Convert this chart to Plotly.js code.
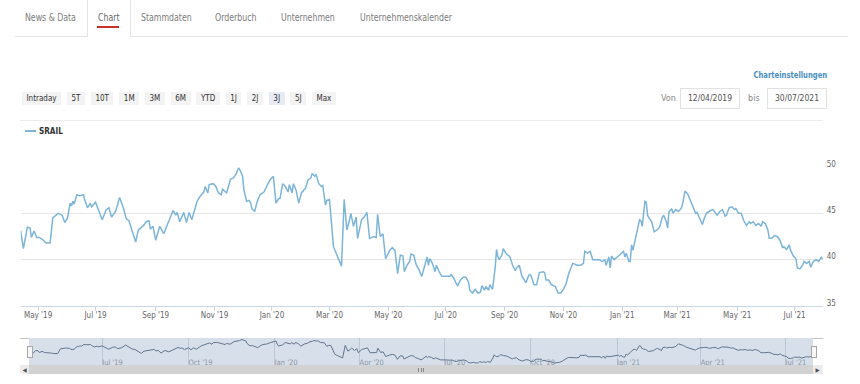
<!DOCTYPE html>
<html lang="de">
<head>
<meta charset="utf-8">
<script src="https://cdn.plot.ly/plotly-3.0.1.min.js"></script>
<style>
  html, body { margin:0; padding:0; width:860px; height:384px; overflow:hidden; background:#fff; }
  body { position:relative; font-family:"DejaVu Sans Condensed","DejaVu Sans",sans-serif; }
  #chart { position:absolute; left:0; top:0; width:860px; height:384px; }
  .a { position:absolute; white-space:nowrap; }
  .tab { font-size:10px; line-height:14px; top:11px; color:#7b7b7b; transform:scaleX(0.87); transform-origin:left center; }
  #tabline { left:15px; top:36px; width:833px; height:1px; background:#e4e4e4; }
  #activetab { left:87px; top:-2px; width:42px; height:39px; background:#fff; border-left:1px solid #e4e4e4; border-right:1px solid #e4e4e4; }
  #redline { left:97px; top:26px; width:22px; height:2px; background:#c8312a; }
  #btns { left:22px; top:92px; display:flex; gap:5.9px; }
  .btn { height:13px; line-height:13px; padding:0 4.5px; font-size:8px; color:#333; background:#f3f3f3; }
  .btn.sel { background:#e6ebf5; }
  #sep { left:20px; top:120px; width:803px; height:1px; background:#ececec; }
  #legline { left:25px; top:130px; width:11px; height:1.5px; background:#7cb5d9; }
  #legtxt { left:39px; top:125px; font-size:9px; line-height:12px; font-weight:bold; color:#333; transform:scaleX(0.9); transform-origin:left center; }
  #settings { right:33px; top:69px; font-size:9.5px; line-height:12px; font-weight:bold; color:#4a8fc0; transform:scaleX(0.8); transform-origin:right center; }
  .lbl { font-size:9px; line-height:12px; color:#888; top:92px; }
  .box { top:88px; height:19px; line-height:19px; border:1px solid #e2e2e2; font-size:8.5px; color:#555; text-align:center; }
  #scroll { left:20px; top:365px; width:803px; height:9px; background:#f2f2f2; }
  #thumb { left:29px; top:365px; width:784px; height:9px; background:#d2d2d2; }
  .sbtn { top:365px; width:9px; height:9px; background:#ebebeb; color:#555; font-size:6px; line-height:9px; text-align:center; }
  .handle { top:346px; width:4px; height:10px; background:#f7f7f7; border:1px solid #a6a6a6; }
  .outl { height:1px; background:#c4c4c4; top:338px; }
  .grip { top:367.5px; width:1px; height:4px; background:#888; }
</style>
</head>
<body>
<div id="chart"></div>

<div class="a" id="tabline"></div>
<div class="a" id="activetab"></div>
<div class="a tab" style="left:25px">News &amp; Data</div>
<div class="a tab" style="left:98px;color:#666">Chart</div>
<div class="a" id="redline"></div>
<div class="a tab" style="left:141px">Stammdaten</div>
<div class="a tab" style="left:215px">Orderbuch</div>
<div class="a tab" style="left:281px">Unternehmen</div>
<div class="a tab" style="left:360px">Unternehmenskalender</div>

<div class="a" id="settings">Charteinstellungen</div>
<div class="a" id="btns"></div>
<div class="a lbl" style="left:661px">Von</div>
<div class="a box" style="left:680px;width:58px">12/04/2019</div>
<div class="a lbl" style="left:748px">bis</div>
<div class="a box" style="left:767px;width:58px">30/07/2021</div>
<div class="a" id="sep"></div>
<div class="a" id="legline"></div>
<div class="a" id="legtxt">SRAIL</div>

<div class="a" id="scroll"></div>
<div class="a" id="thumb"></div>
<div class="a sbtn" style="left:20px">&#9664;</div>
<div class="a sbtn" style="left:813px">&#9654;</div>
<div class="a grip" style="left:418px"></div>
<div class="a grip" style="left:420.5px"></div>
<div class="a grip" style="left:423px"></div>
<div class="a outl" style="left:20px;width:9px"></div>
<div class="a outl" style="left:813px;width:10px"></div>
<div class="a handle" style="left:27px"></div>
<div class="a handle" style="left:811px"></div>

<script>
// ---- data ----
const rangeButtons = ["Intraday","5T","10T","1M","3M","6M","YTD","1J","2J","3J","5J","Max"];
const selectedButton = "3J";
const seriesName = "SRAIL";
const yTicks = [35, 40, 45, 50];

const dates = [
"2019-04-12","2019-04-16","2019-04-19","2019-04-23","2019-04-24","2019-04-26","2019-04-30","2019-05-02","2019-05-07","2019-05-09",
"2019-05-14","2019-05-16","2019-05-22","2019-05-27","2019-05-29","2019-05-31","2019-06-04","2019-06-05","2019-06-06","2019-06-07",
"2019-06-11","2019-06-13","2019-06-18","2019-06-19","2019-06-21","2019-06-25","2019-06-26","2019-07-01","2019-07-08","2019-07-11",
"2019-07-15","2019-07-17","2019-07-22","2019-07-25","2019-07-30","2019-08-01","2019-08-05","2019-08-07","2019-08-12","2019-08-14",
"2019-08-20","2019-08-22","2019-08-26","2019-08-27","2019-08-29","2019-09-02","2019-09-03","2019-09-05","2019-09-10","2019-09-12",
"2019-09-19","2019-09-23","2019-09-24","2019-09-26","2019-10-01","2019-10-03","2019-10-07","2019-10-09","2019-10-11","2019-10-15",
"2019-10-17","2019-10-22","2019-10-23","2019-10-25","2019-10-28","2019-10-31","2019-11-04","2019-11-06","2019-11-08","2019-11-11",
"2019-11-14","2019-11-19","2019-11-21","2019-11-25","2019-11-27","2019-11-28","2019-12-02","2019-12-03","2019-12-05","2019-12-09",
"2019-12-10","2019-12-11","2019-12-13","2019-12-17","2019-12-19","2019-12-23","2019-12-24","2019-12-27","2019-12-31",
"2020-01-02","2020-01-03","2020-01-06","2020-01-08","2020-01-09","2020-01-13","2020-01-15","2020-01-17","2020-01-20","2020-01-22",
"2020-01-23","2020-01-27","2020-01-29","2020-01-31","2020-02-03","2020-02-05","2020-02-07","2020-02-11","2020-02-12","2020-02-14",
"2020-02-17","2020-02-19","2020-02-21","2020-02-24","2020-02-26","2020-02-27","2020-03-02","2020-03-03","2020-03-05","2020-03-09",
"2020-03-11","2020-03-12","2020-03-13","2020-03-17","2020-03-19","2020-03-23","2020-03-24","2020-03-26","2020-03-30","2020-03-31",
"2020-04-03","2020-04-07","2020-04-09","2020-04-13","2020-04-16","2020-04-20","2020-04-21","2020-04-23","2020-04-27","2020-04-29",
"2020-05-04","2020-05-06","2020-05-08","2020-05-12","2020-05-14","2020-05-18","2020-05-19","2020-05-21","2020-05-25","2020-05-26",
"2020-05-28","2020-06-01","2020-06-03","2020-06-05","2020-06-08","2020-06-09","2020-06-11","2020-06-12","2020-06-15","2020-06-17",
"2020-06-19","2020-06-22","2020-06-24","2020-06-26","2020-06-30","2020-07-06","2020-07-07","2020-07-09","2020-07-13","2020-07-14",
"2020-07-16","2020-07-20","2020-07-22","2020-07-24","2020-07-27","2020-07-29","2020-07-31","2020-08-04","2020-08-06","2020-08-07",
"2020-08-11","2020-08-12","2020-08-14","2020-08-17","2020-08-19","2020-08-21","2020-08-24","2020-08-25","2020-08-26","2020-08-28",
"2020-08-31","2020-09-02","2020-09-07","2020-09-09","2020-09-11","2020-09-14","2020-09-16","2020-09-18","2020-09-21","2020-09-23",
"2020-09-25","2020-09-28","2020-09-29","2020-10-01","2020-10-05","2020-10-07","2020-10-12","2020-10-13","2020-10-14","2020-10-16",
"2020-10-20","2020-10-23","2020-10-27","2020-10-29","2020-11-02","2020-11-04","2020-11-06","2020-11-09","2020-11-11","2020-11-13",
"2020-11-16","2020-11-19","2020-11-23","2020-11-24","2020-11-26","2020-11-30","2020-12-02","2020-12-07","2020-12-09","2020-12-11",
"2020-12-15","2020-12-16","2020-12-18","2020-12-21","2020-12-22","2020-12-24","2020-12-28","2020-12-30",
"2021-01-04","2021-01-05","2021-01-06","2021-01-08","2021-01-11","2021-01-12","2021-01-13","2021-01-15","2021-01-18","2021-01-20",
"2021-01-21","2021-01-22","2021-01-26","2021-01-27","2021-01-28","2021-01-29","2021-02-02","2021-02-04","2021-02-08","2021-02-10",
"2021-02-12","2021-02-15","2021-02-17","2021-02-18","2021-02-19","2021-02-23","2021-02-24","2021-02-26","2021-03-02","2021-03-04",
"2021-03-05","2021-03-09","2021-03-11","2021-03-15","2021-03-17","2021-03-19","2021-03-22","2021-03-24","2021-03-26","2021-03-29",
"2021-03-31","2021-04-05","2021-04-07","2021-04-09","2021-04-12","2021-04-14","2021-04-16","2021-04-20","2021-04-21","2021-04-23",
"2021-04-27","2021-04-29","2021-04-30","2021-05-04","2021-05-06","2021-05-10","2021-05-12","2021-05-14","2021-05-17","2021-05-19",
"2021-05-21","2021-05-25","2021-05-27","2021-05-28","2021-06-01","2021-06-03","2021-06-04","2021-06-08","2021-06-10","2021-06-14",
"2021-06-16","2021-06-18","2021-06-21","2021-06-23","2021-06-25","2021-06-28","2021-06-30","2021-07-02","2021-07-05","2021-07-07",
"2021-07-09","2021-07-12","2021-07-14","2021-07-16","2021-07-19","2021-07-21","2021-07-23","2021-07-27","2021-07-29","2021-07-30"
];

const srail = [
43.1,41.2,43.5,43.4,42.4,43.1,42.4,42.4,42.1,41.8,
41.8,44.5,45.0,44.8,44.0,44.5,46.1,45.8,46.3,46.0,
47.0,46.9,47.0,46.4,45.6,46.1,45.7,46.2,44.3,45.4,
45.6,44.6,45.2,46.7,45.5,44.4,44.2,43.2,41.9,43.2,
43.7,44.1,44.2,43.3,43.6,42.1,42.6,43.6,42.8,43.5,
45.3,44.8,45.1,44.1,45.1,44.0,45.1,44.3,45.4,46.3,
46.8,47.3,47.9,47.2,48.1,48.2,47.9,47.2,47.0,47.6,
47.2,48.7,48.8,49.2,49.9,49.7,49.0,47.5,46.3,46.4,
46.1,45.5,45.2,46.3,47.0,47.2,47.3,48.2,48.7,
49.0,47.2,46.1,46.6,46.6,48.2,47.9,47.3,48.1,47.2,
48.2,47.5,46.1,47.2,47.4,47.7,48.6,48.8,49.3,49.0,
49.2,48.2,47.9,48.0,45.9,46.4,46.5,44.6,41.4,40.7,
40.0,39.7,39.3,46.5,43.2,44.3,45.0,43.6,44.6,42.3,
44.3,44.6,45.1,42.3,42.5,42.4,44.9,42.5,42.8,40.1,
41.0,41.3,41.0,38.5,40.5,40.4,38.7,39.4,39.8,40.6,
40.5,39.4,38.9,38.2,38.6,39.2,40.3,39.4,40.1,39.6,
38.7,39.4,38.7,38.2,38.2,38.2,38.4,38.0,37.4,37.2,
37.8,38.1,38.1,37.6,36.7,36.4,36.8,36.4,36.5,37.2,
36.7,37.1,36.7,37.3,36.8,39.2,41.1,40.3,40.0,40.5,
41.2,40.7,40.3,39.4,38.8,39.1,39.4,38.2,38.0,37.5,
38.3,38.4,38.2,37.3,37.3,38.6,38.7,38.6,37.8,37.8,
37.3,37.1,36.4,36.4,36.8,37.4,38.5,38.9,39.6,39.5,
39.4,39.4,39.6,40.9,40.7,40.9,40.0,40.0,40.0,39.8,
40.0,39.4,40.3,39.1,40.4,40.0,40.3,40.5,
40.9,40.3,40.7,39.8,39.8,41.6,41.0,42.3,43.2,44.3,
44.2,43.6,46.3,46.2,44.8,44.5,44.1,43.0,43.2,43.5,
44.6,44.8,44.1,43.4,45.2,45.5,45.0,45.4,45.2,45.5,
45.9,47.4,47.1,46.4,45.5,45.0,45.1,44.4,43.8,44.3,
45.0,45.3,45.4,45.0,44.8,45.2,45.4,44.7,44.8,45.6,
45.7,45.4,45.5,45.0,45.0,44.2,43.7,44.1,43.9,44.1,
43.7,43.9,43.6,44.1,43.9,43.2,42.3,42.3,42.6,42.5,
42.1,41.3,41.4,41.1,41.6,41.0,40.4,40.1,39.1,39.0,
39.4,39.8,39.6,39.8,39.2,39.8,40.0,39.8,40.3,40.0
];

// ---- UI pieces built from the label arrays ----
const btnBox = document.getElementById('btns');
rangeButtons.forEach(function (b) {
  const d = document.createElement('div');
  d.className = 'btn' + (b === selectedButton ? ' sel' : '');
  d.textContent = b;
  btnBox.appendChild(d);
});
document.getElementById('legtxt').textContent = seriesName;

// ---- chart ----
const W = 860, H = 384;
const FONT = '"DejaVu Sans Condensed","DejaVu Sans",sans-serif';
const vMin = Math.min.apply(null, srail), vMax = Math.max.apply(null, srail);

const mainTrace = {
  x: dates, y: srail, type: 'scatter', mode: 'lines', name: seriesName,
  line: { color: '#7cb5d9', width: 1.5 }, xaxis: 'x', yaxis: 'y', hoverinfo: 'skip'
};
const navTrace = {
  x: dates, y: srail, type: 'scatter', mode: 'lines', name: seriesName + ' nav',
  line: { color: '#63768d', width: 1 }, xaxis: 'x2', yaxis: 'y2', hoverinfo: 'skip'
};

const breaks = [{ bounds: ['sat', 'mon'] }];

const layout = {
  width: W, height: H,
  margin: { l: 0, r: 0, t: 0, b: 0, pad: 0 },
  paper_bgcolor: 'rgba(0,0,0,0)', plot_bgcolor: 'rgba(0,0,0,0)',
  showlegend: false,
  font: { family: FONT, size: 8, color: '#666' },
  xaxis: {
    domain: [20.7 / W, 822.7 / W], anchor: 'y', type: 'date',
    range: [dates[0], dates[dates.length - 1]], rangebreaks: breaks,
    tick0: '2019-01-01', dtick: 'M2', tickformat: "%b '%y",
    ticks: 'outside', ticklen: 4, tickcolor: '#ccd6eb', tickwidth: 1,
    showline: true, linecolor: '#ccd6eb', linewidth: 1,
    showgrid: false, zeroline: false, ticklabelstandoff: -3,
    tickfont: { family: FONT, size: 8, color: '#666' }, fixedrange: true
  },
  yaxis: {
    domain: [(H - 306) / H, (H - 167) / H], anchor: 'x', side: 'right',
    range: [yTicks[0], yTicks[yTicks.length - 1]],
    tickmode: 'array', tickvals: yTicks, ticktext: yTicks.map(String),
    ticks: '', showline: false, zeroline: false,
    showgrid: true, gridcolor: '#e6e6e6', gridwidth: 1,
    ticklabelstandoff: 3, ticklabelshift: -3,
    tickfont: { family: FONT, size: 8, color: '#666' }, fixedrange: true
  },
  xaxis2: {
    domain: [29 / W, 813 / W], anchor: 'y2', type: 'date',
    range: [dates[0], dates[dates.length - 1]], rangebreaks: breaks,
    tick0: '2019-01-01', dtick: 'M3', tickformat: "%b '%y",
    ticks: '', ticklabelposition: 'inside right', ticklabelstandoff: -7,
    showline: false, zeroline: false,
    showgrid: true, gridcolor: 'rgba(140,152,172,0.35)', gridwidth: 1,
    tickfont: { family: FONT, size: 7.5, color: '#8c96a3' }, fixedrange: true
  },
  yaxis2: {
    domain: [(H - 365) / H, (H - 338) / H], anchor: 'x2',
    range: [vMin - 1.15, vMax + 0.85], visible: false, fixedrange: true
  },
  shapes: [{
    type: 'rect', xref: 'x2 domain', yref: 'y2 domain', x0: 0, x1: 1, y0: 0, y1: 1,
    fillcolor: '#d7dfea', line: { width: 0 }, layer: 'below'
  }]
};

Plotly.newPlot('chart', [mainTrace, navTrace], layout, { staticPlot: true, displayModeBar: false });
</script>
</body>
</html>
